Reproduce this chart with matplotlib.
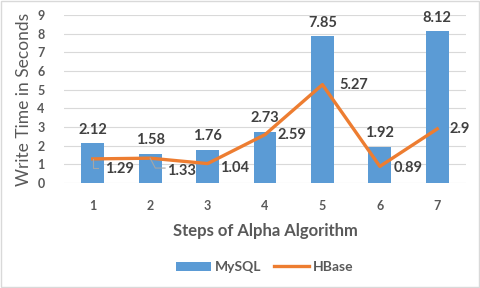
import matplotlib.pyplot as plt
from matplotlib.patches import Rectangle

steps = [1, 2, 3, 4, 5, 6, 7]
mysql = [2.12, 1.58, 1.76, 2.73, 7.85, 1.92, 8.12]
hbase = [1.29, 1.33, 1.04, 2.59, 5.27, 0.89, 2.9]
hbase_labels = ['1.29', '1.33', '1.04', '2.59', '5.27', '0.89', '2.9']

plt.rcParams['font.family'] = ['Lato', 'DejaVu Sans']

fig = plt.figure(figsize=(4.8, 2.88), dpi=100)
ax = fig.add_axes([64/480, 1-183/288, 402/480, 168/288])
fig.patches.append(Rectangle((0.002, 0.003), 0.995, 0.994, transform=fig.transFigure,
	fill=False, edgecolor='#d9d9d9', linewidth=1))

x = list(range(len(steps)))
bars = ax.bar(x, mysql, width=0.4, color='#5b9bd5', label='MySQL', zorder=2)
line, = ax.plot(x, hbase, color='#ed7d31', linewidth=2.4, label='HBase', zorder=3)

for i, v in enumerate(mysql):
	ax.annotate('%.2f' % v, (i, v), xytext=(0, 10), textcoords='offset points',
		ha='center', va='center', fontsize=10.5, fontweight='bold', color='#404040')

# offsets of the HBase labels in points, to the right of each point
offs = [(9, -7), (12, -9), (9, -3), (9, 0), (12, 0), (10, -1), (9, 0)]
for i, v in enumerate(hbase):
	ax.annotate(hbase_labels[i], (i, v), xytext=offs[i], textcoords='offset points',
		ha='left', va='center', fontsize=10.5, fontweight='bold', color='#404040', zorder=4)
# leader lines for the first two labels
ax.plot([0.0, 0.0, 0.1], [1.29, 0.8, 0.8], color='#a6a6a6', linewidth=0.8, zorder=4)
ax.plot([1.0, 1.09, 1.26], [1.33, 0.8, 0.8], color='#a6a6a6', linewidth=0.8, zorder=4)

ax.set_xlim(-0.5, 6.5)
ax.set_ylim(0, 9)
ax.set_yticks(range(10))
ax.set_xticks(x)
ax.set_xticklabels([str(s) for s in steps])
ax.grid(axis='y', color='#d9d9d9', linewidth=0.8, zorder=0)
ax.set_axisbelow(True)
for s in ax.spines.values():
	s.set_visible(False)
ax.tick_params(length=0, labelsize=9, labelcolor='#595959', pad=12)
ax.tick_params(axis='y', pad=14)
for t in ax.get_xticklabels() + ax.get_yticklabels():
	t.set_fontweight('bold')

ax.set_xlabel('Steps of Alpha Algorithm', fontsize=12, fontweight='bold', color='#595959', labelpad=8)
ax.set_ylabel('Write Time in Seconds', fontsize=12.5, color='#595959', labelpad=4)

ax.legend([bars, line], ['MySQL', 'HBase'], loc='upper center', bbox_to_anchor=(0.5, -0.39),
	ncol=2, frameon=False, prop={'size': 10, 'weight': 'bold'}, labelcolor='#595959',
	handlelength=2.5, handleheight=0.6, handletextpad=0.3, columnspacing=0.9)

fig.savefig('out.png', dpi=100)
